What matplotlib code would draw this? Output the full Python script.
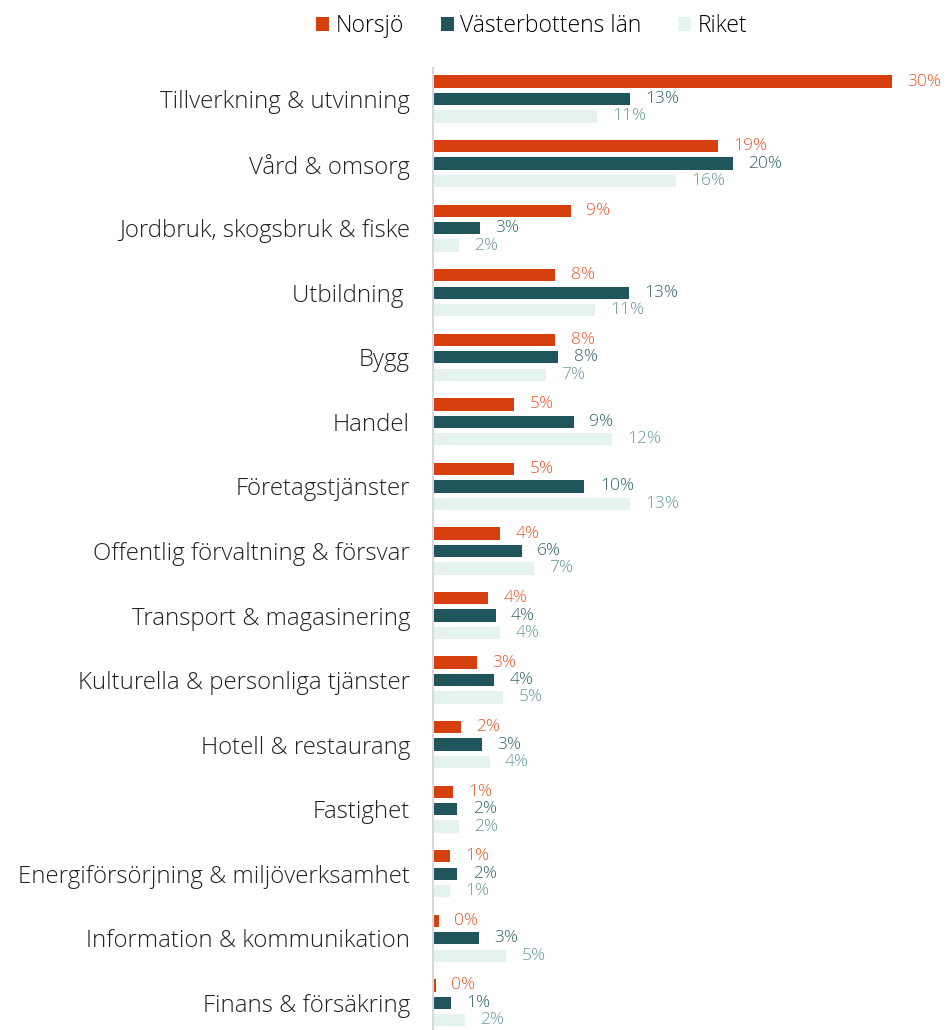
import matplotlib.pyplot as plt
from matplotlib.patches import Patch
import numpy as np

categories = ["Tillverkning & utvinning", "Vård & omsorg", "Jordbruk, skogsbruk & fiske",
              "Utbildning ", "Bygg", "Handel", "Företagstjänster",
              "Offentlig förvaltning & försvar", "Transport & magasinering",
              "Kulturella & personliga tjänster", "Hotell & restaurang", "Fastighet",
              "Energiförsörjning & miljöverksamhet", "Information & kommunikation",
              "Finans & försäkring"]
norsjo = [30.0, 18.6, 9.0, 8.0, 8.0, 5.3, 5.3, 4.4, 3.6, 2.9, 1.8, 1.3, 1.1, 0.4, 0.2]
vasterbotten = [12.9, 19.6, 3.1, 12.8, 8.2, 9.2, 9.9, 5.8, 4.1, 4.0, 3.2, 1.6, 1.6, 3.0, 1.2]
riket = [10.7, 15.9, 1.7, 10.6, 7.4, 11.7, 12.9, 6.6, 4.4, 4.6, 3.7, 1.7, 1.1, 4.8, 2.1]
series_names = ["Norsjö", "Västerbottens län", "Riket"]

bar_colors = ["#D63F0E", "#20555B", "#E4F3EF"]
label_colors = ["#E45A2E", "#35666A", "#6A9A9C"]

plt.rcParams['font.family'] = ['Open Sans', 'DejaVu Sans']

fig = plt.figure(figsize=(9.51, 10.30), dpi=100)
ax = fig.add_axes([433/951, 0.0, (892-433)/951, 1 - 68/1030])

y = np.arange(len(categories))
offsets = [-0.27, 0.0, 0.27]
h = 0.19
for vals, off, bc, lc in zip([norsjo, vasterbotten, riket], offsets, bar_colors, label_colors):
    ax.barh(y + off, vals, height=h, color=bc, zorder=2)
    for yi, v in zip(y, vals):
        ax.text(v + 1.0, yi + off, f"{v:.0f}%", va='center', ha='left',
                fontsize=12.5, color=lc, clip_on=False, fontweight=300)

ax.set_xlim(0, 30)
ax.set_ylim(14.42, -0.48)
ax.set_yticks(y)
ax.set_yticklabels(categories, fontsize=17.3, color='#222222', fontweight=300)
ax.tick_params(axis='y', length=0, pad=16.5)
ax.set_xticks([])
for s in ['top', 'right', 'bottom']:
    ax.spines[s].set_visible(False)
ax.spines['left'].set_color('#D9D9D9')
ax.spines['left'].set_linewidth(1.5)

handles = [Patch(facecolor=c, edgecolor='none') for c in bar_colors]
fig.legend(handles, series_names, loc='center', bbox_to_anchor=(532/951, 1 - 26/1030),
           ncol=3, frameon=False, handlelength=0.55, handleheight=0.55,
           handletextpad=0.3, columnspacing=1.6, prop={'size': 16.5, 'weight': 300})

fig.savefig("out.png", dpi=100)
